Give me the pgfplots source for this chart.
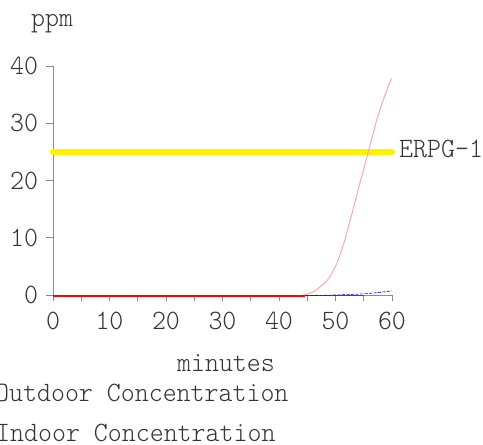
\documentclass[border=0pt]{standalone}
\usepackage{fontspec}
\usepackage{pgfplots}
\pgfplotsset{compat=1.18}
\newfontfamily\mono[FakeStretch=0.95]{Latin Modern Mono Light}
\newcommand\tf{\mono\fontsize{28}{30}\selectfont}
\definecolor{txt}{HTML}{333333}
\definecolor{axgray}{HTML}{8C8C8C}
\definecolor{pinkline}{HTML}{FFA8A8}
\definecolor{brightred}{RGB}{255,0,0}
\begin{document}
\begin{tikzpicture}
\begin{axis}[
  at={(53pt,150pt)}, anchor=origin,
  scale only axis, width=339pt, height=229pt,
  xmin=0, xmax=60, ymin=0, ymax=40,
  set layers=standard,
  axis lines*=left,
  axis line style={axgray, line width=0.8pt},
  every tick/.style={axgray, line width=0.8pt},
  tick align=outside,
  major tick length=6.5pt, minor tick length=6.5pt,
  xtick={0,10,...,60}, minor x tick num=1,
  ytick={0,10,...,40},
  clip=false,
  /pgf/number format/assume math mode=true,
  every tick label/.append style={font=\tf, text=txt},
  xticklabel style={anchor=north, yshift=-7pt},
  yticklabel style={anchor=east, xshift=-5pt},
]
\addplot[yellow, line width=6.5pt, line cap=round] coordinates {(0,25) (60,25)};
\addplot[pinkline, line width=1pt, smooth] coordinates {(44.3,0) (45.3,0.25) (46.3,0.7) (47.3,1.45) (48.2,2.2) (49.0,3.2) (50.0,5.0) (50.8,7.0) (51.7,9.8) (52.6,13.1) (53.5,16.4) (54.3,19.5) (55.1,22.4) (55.8,25.0) (56.6,28.0) (57.3,30.6) (58.6,34.5) (59.9,37.8)};
\addplot[black!70, line width=0.8pt, on layer=axis foreground] coordinates {(44,0) (55,0)};
\addplot[blue, line width=0.6pt, dash pattern=on 3pt off 1.5pt, on layer=axis foreground] coordinates {(44,-0.1) (46,-0.1) (48,-0.05) (50,0) (52,0.06) (54,0.15) (56,0.28) (58,0.48) (60,0.72)};
\addplot[draw=brightred, line width=1.5pt, on layer=axis foreground] coordinates {(0,-0.2) (44.6,-0.2)};
\end{axis}
\node[anchor=base west, inner sep=0, text=txt, font=\tf] at (31pt,418pt) {ppm};
\node[anchor=base west, inner sep=0, text=txt, font=\tf] at (399pt,287pt) {ERPG-1};
\node[anchor=base, inner sep=0, text=txt, font=\tf] at (226pt,73pt) {minutes};
\node[anchor=base west, inner sep=0, text=txt, font=\tf] at (-5pt,43pt) {Outdoor Concentration};
\node[anchor=base west, inner sep=0, text=txt, font=\tf] at (-4pt,3pt) {Indoor Concentration};
\pgfresetboundingbox
\useasboundingbox (0pt,0pt) rectangle (483pt,445pt);
\end{tikzpicture}
\end{document}
